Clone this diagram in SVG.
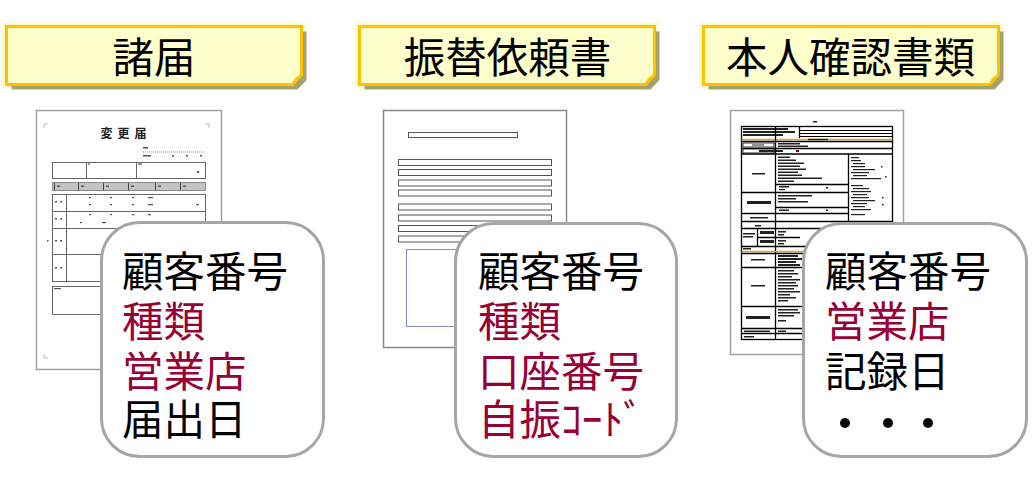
<svg xmlns="http://www.w3.org/2000/svg" width="1036" height="500" viewBox="0 0 1036 500">
<style>
.ht{font-family:"Liberation Sans","Noto Sans CJK JP",sans-serif;font-size:41.5px;fill:#000;text-anchor:middle}
.bt{font-family:"Liberation Sans","Noto Sans CJK JP",sans-serif;font-size:41.5px;fill:#000}
.red{fill:#990033}
.card{fill:#fff;stroke:#A6A6A6;stroke-width:3}
.page{fill:#fff;stroke:#A0A0A0;stroke-width:1.5}
.ln{fill:none;stroke:#555;stroke-width:0.9}
.bl{fill:none;stroke:#000;stroke-width:1.3}
.mk{fill:#555}
.sm{fill:#222}
.bar{fill:#fff;stroke:#555;stroke-width:1}
</style>
<defs>
<path id="hdr" d="M0,0 H295 V48.5 L286,58 H0 Z"/>
<path id="fold" d="M295,48.5 L286,58 C286.5,53 289.5,49.5 295,48.5 Z"/>
</defs>

<g id="header-1" transform="translate(6.5,26.5)">
<use href="#hdr" fill="none" stroke="#FFF7BE" stroke-width="8" opacity="0.8"/>
<use href="#hdr" transform="translate(5,5)" fill="#A3A36B"/>
<use href="#hdr" fill="#FFFFCC" stroke="#FFC000" stroke-width="3"/>
<use href="#fold" fill="#FFC000"/>
<text class="ht" x="147.5" y="46">諸届</text>
</g>
<g id="header-2" transform="translate(359.5,26.5)">
<use href="#hdr" fill="none" stroke="#FFF7BE" stroke-width="8" opacity="0.8"/>
<use href="#hdr" transform="translate(5,5)" fill="#A3A36B"/>
<use href="#hdr" fill="#FFFFCC" stroke="#FFC000" stroke-width="3"/>
<use href="#fold" fill="#FFC000"/>
<text class="ht" x="148" y="46">振替依頼書</text>
</g>
<g id="header-3" transform="translate(703.5,26.5)">
<use href="#hdr" fill="none" stroke="#FFF7BE" stroke-width="8" opacity="0.8"/>
<use href="#hdr" transform="translate(5,5)" fill="#A3A36B"/>
<use href="#hdr" fill="#FFFFCC" stroke="#FFC000" stroke-width="3"/>
<use href="#fold" fill="#FFC000"/>
<text class="ht" x="147" y="46">本人確認書類</text>
</g>

<g id="doc-1">
<rect class="page" x="36.5" y="110.5" width="185" height="259"/>
<path d="M44,128 V124 H48 M209,128 V124 H205 M44,354 V358 H48" fill="none" stroke="#bbb" stroke-width="1"/>
<text x="126" y="137.5" font-family="'Liberation Sans','Noto Sans CJK JP',sans-serif" font-size="12" font-weight="bold" letter-spacing="5" text-anchor="middle" fill="#222">変更届</text>
<rect class="mk" x="143" y="147" width="5" height="1.5"/>
<line x1="143" y1="152" x2="205" y2="152" stroke="#777" stroke-width="0.8" stroke-dasharray="1 1"/>
<rect class="mk" x="143" y="155" width="8" height="1.5"/><rect class="mk" x="172" y="155" width="2" height="1.5"/><rect class="mk" x="186" y="155" width="2" height="1.5"/><rect class="mk" x="200" y="155" width="2" height="1.5"/>
<rect class="ln" x="52.5" y="162.5" width="153" height="16"/>
<line class="ln" x1="86.5" y1="162.5" x2="86.5" y2="178.5"/><line class="ln" x1="136.5" y1="162.5" x2="136.5" y2="178.5"/>
<rect class="mk" x="88" y="163.5" width="2" height="1.2"/><rect class="mk" x="138" y="163.5" width="4" height="1.2"/><rect class="mk" x="197" y="171" width="2" height="2"/>
<rect x="52.5" y="182.5" width="153" height="8" fill="#C4C4C4" stroke="#777" stroke-width="0.8"/>
<path d="M54.5,183 V190 M78.5,183 V190 M103.5,183 V190 M128.5,183 V190 M155.5,183 V190 M180.5,183 V190" stroke="#333" stroke-width="0.9"/>
<rect class="mk" x="57" y="185.5" width="3" height="1.5"/><rect class="mk" x="81" y="185.5" width="3" height="1.5"/><rect class="mk" x="106" y="185.5" width="3" height="1.5"/><rect class="mk" x="131" y="185.5" width="3" height="1.5"/><rect class="mk" x="158" y="185.5" width="3" height="1.5"/><rect class="mk" x="183" y="185.5" width="3" height="1.5"/>
<rect class="ln" x="52.5" y="194.5" width="153" height="87"/>
<line class="ln" x1="66.5" y1="194.5" x2="66.5" y2="281.5"/>
<line class="ln" x1="52.5" y1="211.5" x2="205.5" y2="211.5"/>
<line class="ln" x1="52.5" y1="228.5" x2="205.5" y2="228.5"/>
<line class="ln" x1="52.5" y1="254.5" x2="205.5" y2="254.5"/>
<g class="mk">
<rect x="55" y="201" width="2" height="1.5"/><rect x="60" y="201" width="2" height="1.5"/>
<rect x="89" y="197" width="2" height="1.2"/><rect x="110" y="197" width="2" height="1.2"/><rect x="132" y="197" width="2" height="1.2"/><rect x="148" y="197" width="5" height="1.2"/>
<rect x="89" y="204" width="2" height="1.2"/><rect x="110" y="204" width="2" height="1.2"/><rect x="132" y="204" width="2" height="1.2"/><rect x="148" y="204" width="5" height="1.2"/><rect x="196" y="204" width="3" height="1.2"/>
<rect x="55" y="218" width="2" height="1.5"/><rect x="60" y="218" width="2" height="1.5"/>
<rect x="89" y="214" width="2" height="1.2"/><rect x="110" y="214" width="2" height="1.2"/><rect x="132" y="214" width="2" height="1.2"/><rect x="148" y="214" width="3" height="1.2"/>
<rect x="80" y="222" width="2" height="1.2"/><rect x="102" y="222" width="4" height="1.2"/>
<rect x="55" y="240" width="2" height="1.5"/><rect x="60" y="240" width="2" height="1.5"/><rect x="47" y="240" width="1.5" height="1.5"/>
<rect x="55" y="267" width="2" height="1.5"/><rect x="60" y="267" width="2" height="1.5"/>
<rect x="54" y="288" width="7" height="1.2"/>
</g>
<rect class="ln" x="52.5" y="286.5" width="153" height="28"/>
</g>

<g id="doc-2">
<rect x="383.5" y="110.5" width="183" height="237" fill="#fff" stroke="#888" stroke-width="1.5"/>
<rect class="bar" x="408.5" y="132.5" width="109" height="5"/>
<rect class="bar" x="398.5" y="159.5" width="153" height="6"/>
<rect class="bar" x="398.5" y="169.5" width="153" height="6"/>
<rect class="bar" x="398.5" y="180" width="153" height="6"/>
<rect class="bar" x="398.5" y="190" width="153" height="6"/>
<rect class="bar" x="398.5" y="204" width="153" height="6"/>
<rect class="bar" x="398.5" y="215" width="153" height="6"/>
<rect class="bar" x="398.5" y="225.5" width="153" height="6"/>
<rect class="bar" x="398.5" y="236" width="153" height="6"/>
<rect x="406.5" y="249.5" width="100" height="77" fill="#fff" stroke="#7F8CC8" stroke-width="1"/>
</g>

<g id="doc-3">
<rect class="page" x="730.5" y="110.5" width="173" height="244"/>
<rect class="sm" x="813" y="121" width="4" height="1.5"/>
<rect class="bl" x="741.5" y="126.5" width="151" height="213" stroke-width="1.6"/>
<g class="sm">
<rect x="743" y="128" width="45" height="2"/><rect x="743" y="131" width="52" height="2"/><rect x="743" y="134" width="40" height="2"/>
</g>
<line class="bl" x1="799.5" y1="126.5" x2="799.5" y2="138"/>
<path d="M799.5,130.5 H892.5 M799.5,133.5 H892.5 M799.5,136.5 H892.5" stroke="#000" stroke-width="1"/>
<line x1="741.5" y1="139.5" x2="892.5" y2="139.5" stroke="#F0A800" stroke-width="1.6"/>
<rect class="sm" x="808" y="138.8" width="20" height="1.4"/>
<line class="bl" x1="741.5" y1="141.5" x2="892.5" y2="141.5"/>
<rect x="743" y="143" width="31" height="4" fill="#fff" stroke="#000" stroke-width="0.8"/>
<rect class="sm" x="752" y="144.5" width="12" height="1"/>
<rect class="sm" x="778" y="143" width="22" height="1.5"/><rect class="sm" x="778" y="145.5" width="30" height="1.5"/>
<line class="bl" x1="741.5" y1="148.5" x2="892.5" y2="148.5"/>
<rect x="743" y="149" width="31" height="4" fill="#fff" stroke="#000" stroke-width="0.8"/>
<rect class="sm" x="759" y="150" width="24" height="2"/><rect x="796" y="150" width="3" height="2" fill="#900"/>
<line class="bl" x1="741.5" y1="154" x2="892.5" y2="154"/>
<line class="bl" x1="775.5" y1="126.5" x2="775.5" y2="339.5"/>
<line class="bl" x1="848.5" y1="154" x2="848.5" y2="222"/>
<rect class="sm" x="752" y="173" width="13" height="1.5"/>
<g class="sm">
<rect x="778" y="156.5" width="12" height="1.5"/><rect x="778" y="159.5" width="18" height="1.5"/><rect x="778" y="162.5" width="26" height="1.5"/><rect x="778" y="165.5" width="22" height="1.5"/><rect x="778" y="168.5" width="28" height="1.5"/><rect x="778" y="171.5" width="20" height="1.5"/><rect x="778" y="174.5" width="24" height="1.5"/><rect x="778" y="177.5" width="44" height="1.5"/><rect x="778" y="180.5" width="16" height="1.5"/>
<rect x="851" y="157" width="8" height="1.2"/><rect x="851" y="160" width="10" height="1.2"/><rect x="853" y="163" width="12" height="1.2"/><rect x="851" y="166" width="14" height="1.2"/><rect x="853" y="169" width="22" height="1.2"/><rect x="851" y="172" width="18" height="1.2"/><rect x="853" y="175" width="14" height="1.2"/><rect x="851" y="178" width="30" height="1.2"/><rect x="851" y="185" width="12" height="1.2"/><rect x="853" y="188" width="16" height="1.2"/><rect x="851" y="191" width="20" height="1.2"/><rect x="853" y="194" width="14" height="1.2"/><rect x="851" y="197" width="18" height="1.2"/><rect x="853" y="200" width="22" height="1.2"/><rect x="851" y="203" width="16" height="1.2"/><rect x="853" y="206" width="12" height="1.2"/><rect x="851" y="209" width="20" height="1.2"/><rect x="851" y="214" width="14" height="1.2"/>
<rect x="881" y="166" width="1.5" height="1.5"/><rect x="885" y="176" width="1.5" height="1.5"/><rect x="882" y="197" width="1.5" height="1.5"/><rect x="882" y="204" width="1.5" height="1.5"/>
</g>
<line class="bl" x1="775.5" y1="184.5" x2="848.5" y2="184.5"/>
<rect class="sm" x="779" y="186" width="10" height="1.5"/><rect class="sm" x="779" y="189" width="6" height="1.2"/><rect class="sm" x="826" y="187" width="2" height="1.5"/>
<line class="bl" x1="741.5" y1="192.5" x2="848.5" y2="192.5"/>
<rect class="sm" x="747" y="201" width="24" height="3"/>
<rect class="sm" x="778" y="195" width="34" height="1.5"/><rect class="sm" x="778" y="198" width="18" height="1.5"/><rect class="sm" x="778" y="201" width="30" height="1.5"/>
<line class="bl" x1="775.5" y1="207.5" x2="848.5" y2="207.5"/>
<rect class="sm" x="779" y="209.5" width="10" height="1.5"/><rect class="sm" x="826" y="209.5" width="2" height="1.5"/>
<line class="bl" x1="741.5" y1="213.5" x2="848.5" y2="213.5"/>
<rect class="sm" x="750" y="217" width="18" height="1.5"/>
<line class="bl" x1="741.5" y1="221.5" x2="892.5" y2="221.5"/>
<rect class="sm" x="755" y="225" width="6" height="1.5"/>
<line class="bl" x1="741.5" y1="228.5" x2="892.5" y2="228.5"/>
<line class="bl" x1="757.5" y1="228.5" x2="757.5" y2="246.5"/>
<rect class="sm" x="743" y="233" width="12" height="1.5"/><rect class="sm" x="743" y="236" width="10" height="1.5"/>
<rect class="sm" x="760" y="231" width="14" height="3"/><rect class="sm" x="760" y="240" width="14" height="3"/>
<line class="bl" x1="757.5" y1="237.5" x2="800" y2="237.5"/>
<rect class="sm" x="778" y="231" width="8" height="1.5"/><rect class="sm" x="778" y="234" width="6" height="1.5"/><rect class="sm" x="778" y="240" width="8" height="1.5"/><rect class="sm" x="778" y="243" width="6" height="1.5"/>
<line class="bl" x1="741.5" y1="246.5" x2="892.5" y2="246.5"/>
<rect class="sm" x="743" y="248" width="8" height="1.5"/>
<line x1="741.5" y1="251.5" x2="892.5" y2="251.5" stroke="#F0A800" stroke-width="1.6"/>
<line class="bl" x1="741.5" y1="253.5" x2="892.5" y2="253.5"/>
<rect class="sm" x="751" y="259" width="14" height="1.5"/>
<rect class="sm" x="778" y="255" width="20" height="2"/><rect class="sm" x="778" y="258" width="24" height="2"/><rect class="sm" x="778" y="261" width="18" height="2"/><rect class="sm" x="778" y="264" width="22" height="2"/>
<line class="bl" x1="741.5" y1="267.5" x2="892.5" y2="267.5"/>
<rect class="sm" x="751" y="285" width="14" height="1.5"/>
<g class="sm">
<rect x="778" y="270" width="16" height="1.5"/><rect x="778" y="273" width="20" height="1.5"/><rect x="778" y="276" width="14" height="1.5"/><rect x="778" y="279" width="22" height="1.5"/><rect x="778" y="282" width="18" height="1.5"/><rect x="778" y="285" width="20" height="1.5"/><rect x="778" y="288" width="16" height="1.5"/><rect x="778" y="291" width="22" height="1.5"/><rect x="778" y="294" width="12" height="1.5"/><rect x="778" y="297" width="18" height="1.5"/><rect x="778" y="300" width="10" height="1.5"/>
</g>
<line class="bl" x1="741.5" y1="306.5" x2="892.5" y2="306.5"/>
<rect class="sm" x="746" y="316" width="24" height="3"/>
<rect class="sm" x="778" y="309" width="20" height="1.5"/><rect class="sm" x="778" y="312" width="22" height="1.5"/><rect class="sm" x="778" y="315" width="16" height="1.5"/><rect class="sm" x="778" y="320" width="8" height="1.5"/>
<line class="bl" x1="741.5" y1="328.5" x2="892.5" y2="328.5"/>
<rect class="sm" x="744" y="330.5" width="26" height="1.5"/><rect class="sm" x="778" y="330.5" width="8" height="1.5"/>
<line class="bl" x1="741.5" y1="333.5" x2="892.5" y2="333.5"/>
<rect class="sm" x="744" y="336" width="10" height="1.5"/>
</g>

<g id="card-1">
<rect class="card" x="101.5" y="222.5" width="222" height="234" rx="38"/>
<text class="bt" x="122" y="287">顧客番号</text>
<text class="bt red" x="122" y="337">種類</text>
<text class="bt red" x="122" y="387">営業店</text>
<text class="bt" x="122" y="435">届出日</text>
</g>
<g id="card-2">
<rect class="card" x="455.5" y="223.5" width="221" height="233" rx="38"/>
<text class="bt" x="478" y="287">顧客番号</text>
<text class="bt red" x="478" y="337">種類</text>
<text class="bt red" x="478" y="387">口座番号</text>
<text class="bt red" x="478" y="435">自振ｺｰﾄﾞ</text>
</g>
<g id="card-3">
<rect class="card" x="803.5" y="223.5" width="223" height="233" rx="38"/>
<text class="bt" x="825" y="287">顧客番号</text>
<text class="bt red" x="825" y="337">営業店</text>
<text class="bt" x="825" y="387">記録日</text>
<circle cx="845" cy="423" r="5"/>
<circle cx="888" cy="423" r="5"/>
<circle cx="928" cy="423" r="5"/>
</g>
</svg>
